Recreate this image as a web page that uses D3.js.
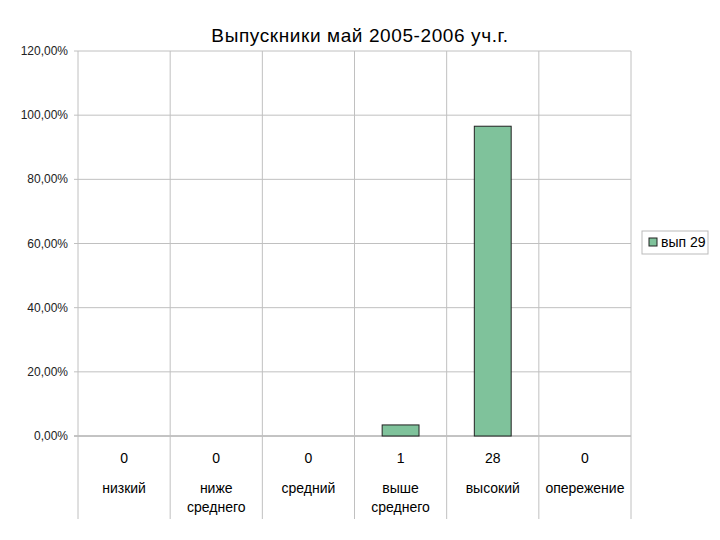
<!DOCTYPE html><html><head><meta charset="utf-8">
<script src="https://cdn.jsdelivr.net/npm/d3@7"></script>
<style>body{margin:0;background:#fff}text{font-family:"Liberation Sans",Arial,sans-serif}</style></head><body>
<svg id="c" width="720" height="540"></svg>
<script>
const categories=["низкий","ниже\nсреднего","средний","выше\nсреднего","высокий","опережение"];
const counts=[0,0,0,1,28,0];
const total=29;
const values=counts.map(c=>c/total*100);
const yTicks=[0,20,40,60,80,100,120];
const seriesName="вып 29";
const svg=d3.select("#c");
const L=78,R=631,T=51,B=436,tableB=519;
const x=d3.scaleBand().domain(categories).range([L,R]);
const y=d3.scaleLinear().domain([0,120]).range([B,T]);
svg.append("text").attr("x",360).attr("y",42).attr("text-anchor","middle").attr("font-size",19).attr("letter-spacing",0.6).text("Выпускники май 2005-2006 уч.г.");
const g=svg.append("g");
yTicks.forEach(t=>{
 g.append("line").attr("x1",L-4).attr("x2",R).attr("y1",y(t)).attr("y2",y(t)).attr("stroke",t===0?"#888":"#c0c0c0");
 g.append("text").attr("x",L-10).attr("y",y(t)+4).attr("text-anchor","end").attr("font-size",12).attr("fill","#222").text(t.toFixed(2).replace(".",",")+"%");
});
categories.forEach((c,i)=>{
 const xs=x(c);
 g.append("line").attr("x1",xs).attr("x2",xs).attr("y1",T).attr("y2",tableB).attr("stroke","#c0c0c0");
});
g.append("line").attr("x1",R).attr("x2",R).attr("y1",T).attr("y2",tableB).attr("stroke","#c0c0c0");
const bw=x.bandwidth()*0.4;
categories.forEach((c,i)=>{
 if(values[i]>0) g.append("rect").attr("x",x(c)+x.bandwidth()/2-bw/2).attr("width",bw).attr("y",y(values[i])).attr("height",B-y(values[i])).attr("fill","#7fc29b").attr("stroke","#222").attr("stroke-width",1);
 const cx=x(c)+x.bandwidth()/2;
 g.append("text").attr("x",cx).attr("y",463).attr("text-anchor","middle").attr("font-size",14).text(counts[i]);
 c.split("\n").forEach((ln,j)=>g.append("text").attr("x",cx).attr("y",493+j*19).attr("text-anchor","middle").attr("font-size",14).text(ln));
});
const lg=svg.append("g");
lg.append("rect").attr("x",642).attr("y",231).attr("width",66).attr("height",23).attr("fill","#fff").attr("stroke","#bbb");
lg.append("rect").attr("x",649).attr("y",238).attr("width",8).attr("height",8).attr("fill","#7fc29b").attr("stroke","#222");
lg.append("text").attr("x",661).attr("y",247).attr("font-size",14).text(seriesName);
</script></body></html>
